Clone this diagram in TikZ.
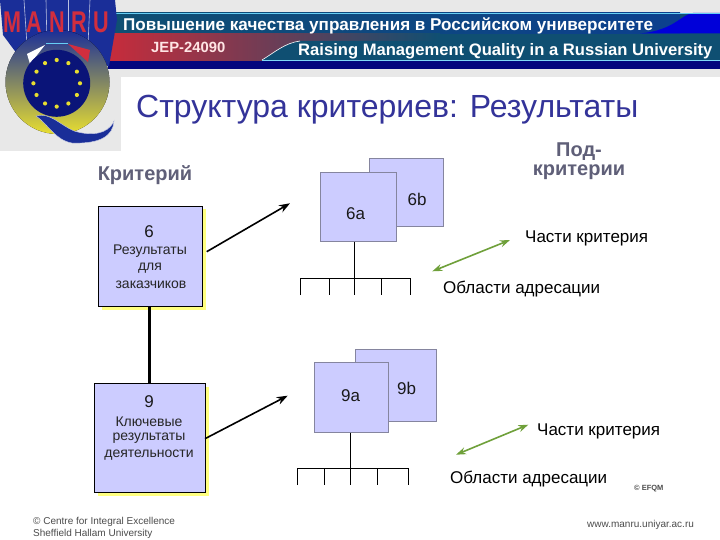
\documentclass[tikz,border=0pt]{standalone}
\usepackage{fontspec}
\setmainfont{Liberation Sans}
\usetikzlibrary{arrows.meta,shadings,calc}
\definecolor{boxfill}{HTML}{CCCCFF}
\definecolor{boxline}{HTML}{85859F}
\definecolor{shadowy}{HTML}{FFFF80}
\definecolor{titleblue}{HTML}{333399}
\definecolor{headgray}{HTML}{5F5F78}
\definecolor{bannerteal}{HTML}{0F4F72}
\definecolor{bannernavy}{HTML}{04067E}
\definecolor{arrowgreen}{HTML}{6FA03A}
\definecolor{logoblue}{HTML}{1A2E98}
\definecolor{logonavy}{HTML}{0A1478}
\definecolor{logored}{HTML}{D22E3E}
\definecolor{logoyellow}{HTML}{E8DE30}
\definecolor{lightgray}{HTML}{E8E8E8}
\tikzset{
 px/.style={x=1pt,y=-1pt},
 crit/.style={draw=black,line width=.8pt,fill=boxfill},
 sub/.style={draw=boxline,line width=1pt,fill=boxfill},
 shadowbox/.style={fill=shadowy,draw=none},
 lbl/.style={inner sep=0pt,anchor=west,font=\fontsize{17}{17}\selectfont,text=black},
 boxtxt/.style={inner sep=0pt,anchor=center,font=\fontsize{14}{14}\selectfont,text=black!85},
 num/.style={inner sep=0pt,anchor=center,font=\fontsize{17}{17}\selectfont,text=black!90},
 subnum/.style={inner sep=0pt,anchor=center,font=\fontsize{17}{17}\selectfont,text=black!90},
 head/.style={inner sep=0pt,anchor=center,align=center,font=\bfseries\fontsize{20}{19}\selectfont,text=headgray},
 foot/.style={inner sep=0pt,anchor=west,font=\fontsize{10}{10}\selectfont,text=black!70},
 tree/.style={draw=black,line width=.8pt},
 fat/.style={draw=black,line width=2.8pt},
 blackarrow/.style={draw=black,line width=1.6pt,-{Stealth[length=11pt,width=8pt]}},
 greenarrow/.style={draw=arrowgreen,line width=1.6pt,{Stealth[length=10pt,width=7pt]}-{Stealth[length=10pt,width=7pt]}},
 bantxt/.style={inner sep=0pt,anchor=west,text=white,font=\bfseries\fontsize{17.1}{17.1}\selectfont},
 logoletter/.style={inner sep=0pt,anchor=center,text=logored,font=\bfseries\fontsize{30}{30}\selectfont,xscale=.72},
 star/.style={fill=logoyellow,draw=none},
}
\begin{document}
\begin{tikzpicture}[px]
\useasboundingbox (0,0) rectangle (720,540);
\fill[white] (0,0) rectangle (720,540);
% banner
\fill[lightgray] (0,0) rectangle (720,13);
\fill[lightgray] (0,69) rectangle (720,77);
\fill[lightgray] (0,0) rectangle (121,151);
\fill[bannerteal] (108,13) rectangle (720,41);
\fill[left color=bannerteal,right color=bannerteal!80!blue] (108,13) rectangle (680,34);
\fill[blue!85!black] (720,13) -- (693,13) .. controls (680,15) and (675,30) .. (640,33.5) -- (720,33.5) -- cycle;
\draw[cyan!60,line width=.7pt] (108,13.5) -- (720,13.5);
\fill[left color=logored!95!black,middle color=logored!70!blue,right color=bannerteal] (108,34) rectangle (440,61);
\fill[bannerteal] (720,41) -- (300,41) .. controls (285,43) and (275,52) .. (262,60) -- (720,60) -- cycle;
\draw[white,line width=.6pt] (262,60) .. controls (275,52) and (285,43) .. (300,41);
\draw[cyan!50,line width=.5pt] (262,60.2) -- (720,60.2);
\fill[bannernavy] (108,61) rectangle (720,69.5);
\node[bantxt] (ru) at (123,25.5) {Повышение качества управления в Российском университете};
\node[bantxt,font=\bfseries\fontsize{14.8}{14.8}\selectfont,text=white!90!red] (jep) at (151,47.5) {JEP-24090};
\node[bantxt,font=\bfseries\fontsize{16.6}{16.6}\selectfont] (en) at (298,51.5) {Raising Management Quality in a Russian University};
% logo
\fill[logoblue] (0,0) -- (115,0) -- (117,20) -- (109,66) -- (26,66) -- (3,35) -- cycle;
\foreach \a/\b in {24/27,46/47,68/68,90/88}{\draw[white!70!logoblue,line width=.6pt] (\a,0) -- (\b,45);}
\fill[top color=logoblue,middle color=logoblue!85!logoyellow,bottom color=logoyellow] (57.5,82) circle (52);
\fill[white] (27,54) -- (45,45) -- (30,64) -- cycle;
\fill[logored] (68,44) -- (88,62) -- (90,50) -- cycle;
\draw[cyan!60,line width=1pt] (46,44) -- (68,44);
\fill[logonavy] (56.7,83.3) circle (33.5);
\foreach \t in {0,30,...,330}{\fill[star] ($(56.7,83.3)+(\t:23.3)$) circle (2.1);}
\fill[logoblue,draw=white!75!logoblue,line width=.4pt] (36,116) .. controls (50,112) and (60,125) .. (74,131) .. controls (90,136) and (108,135) .. (114,121) .. controls (113,136) and (100,144) .. (72,143) .. controls (55,140) and (48,124) .. (36,116) -- cycle;
\foreach \l/\x in {M/12,A/34,N/57,R/79,U/101}{\node[logoletter] (l\l) at (\x,22) {\l};}
% title
\node[inner sep=0pt,anchor=west,text=titleblue,font=\fontsize{32}{32}\selectfont] (title) at (136,109.5) {Структура критериев: Результаты};
\node[head] (kr) at (145,175.5) {Критерий};
\node[head] (pod) at (579,161.5) {Под-\\критерии};
% criterion 6
\fill[shadowbox] (102,209.5) rectangle (205.5,309.5);
\node[crit,inner sep=0pt,minimum width=103.4pt,minimum height=100pt,anchor=north west] (b6) at (98.3,205.7) {};
\node[num] (t6) at (149,232) {6};
\node[boxtxt] (t6a) at (150,251) {Результаты};
\node[boxtxt] (t6b) at (150,268) {для};
\node[boxtxt] (t6c) at (151,285) {заказчиков};
% criterion 9
\fill[shadowbox] (98,387) rectangle (208.5,495.5);
\node[crit,inner sep=0pt,minimum width=110.4pt,minimum height=108.4pt,anchor=north west] (b9) at (94.3,383.3) {};
\node[num] (t9) at (149,402) {9};
\node[boxtxt] (t9a) at (149,421.5) {Ключевые};
\node[boxtxt] (t9b) at (149,438.5) {результаты};
\node[boxtxt] (t9c) at (149,455) {деятельности};
\coordinate (fatx) at (149.3,0);
\draw[fat] (b6.south -| fatx) -- (b9.north -| fatx);
% sub boxes
\node[sub,inner sep=0pt,minimum width=74pt,minimum height=68pt,anchor=north west] (s6b) at (369.3,158.3) {};
\node[sub,inner sep=0pt,minimum width=75.7pt,minimum height=69pt,anchor=north west] (s6a) at (320,171.7) {};
\node[subnum] (l6b) at (417,199) {6b};
\node[subnum] (l6a) at (355.5,214) {6a};
\node[sub,inner sep=0pt,minimum width=80.4pt,minimum height=72pt,anchor=north west] (s9b) at (355.3,349.3) {};
\node[sub,inner sep=0pt,minimum width=74pt,minimum height=69.4pt,anchor=north west] (s9a) at (314.3,362.3) {};
\node[subnum] (l9b) at (406.5,388) {9b};
\node[subnum] (l9a) at (350.5,396) {9a};
% trees
\coordinate (j6) at (354.3,278.3);
\coordinate (j9) at (350.3,468.3);
\draw[tree] (s6a.south -| j6) -- (j6);
\draw[tree] (300.3,295) -- (300.3,278.3) -- (410.7,278.3) -- (410.7,295);
\foreach \x in {329.3,354.3,381.5}{\draw[tree] (\x,278.3) -- (\x,295);}
\draw[tree] (s9a.south -| j9) -- (j9);
\draw[tree] (297.3,485) -- (297.3,468.3) -- (408.3,468.3) -- (408.3,485);
\foreach \x in {324.3,350.3,377.3}{\draw[tree] (\x,468.3) -- (\x,485);}
% arrows
\coordinate (a6s) at (206.7,251.7); \coordinate (a6e) at (290,203.3);
\coordinate (a9s) at (205,438.7); \coordinate (a9e) at (287.7,395.7);
\draw[blackarrow] (a6s) -- (a6e);
\draw[blackarrow] (a9s) -- (a9e);
\coordinate (g6a) at (510,240); \coordinate (g6b) at (432.3,271.3);
\coordinate (g9a) at (528.3,424.7); \coordinate (g9b) at (456,454.7);
\draw[greenarrow] (g6a) -- (g6b);
\draw[greenarrow] (g9a) -- (g9b);
% labels
\node[lbl] (c1) at (525,238) {Части критерия};
\node[lbl] (o1) at (443,289) {Области адресации};
\node[lbl] (c2) at (537,431) {Части критерия};
\node[lbl] (o2) at (450,479) {Области адресации};
\node[foot] (f1) at (33,522) {© Centre for Integral Excellence};
\node[foot] (f2) at (33,534) {Sheffield Hallam University};
\node[foot,font=\bfseries\fontsize{7.5}{7.5}\selectfont] (ef) at (634,489) {© EFQM};
\node[foot] (www) at (587,524.5) {www.manru.uniyar.ac.ru};
\end{tikzpicture}
\end{document}
